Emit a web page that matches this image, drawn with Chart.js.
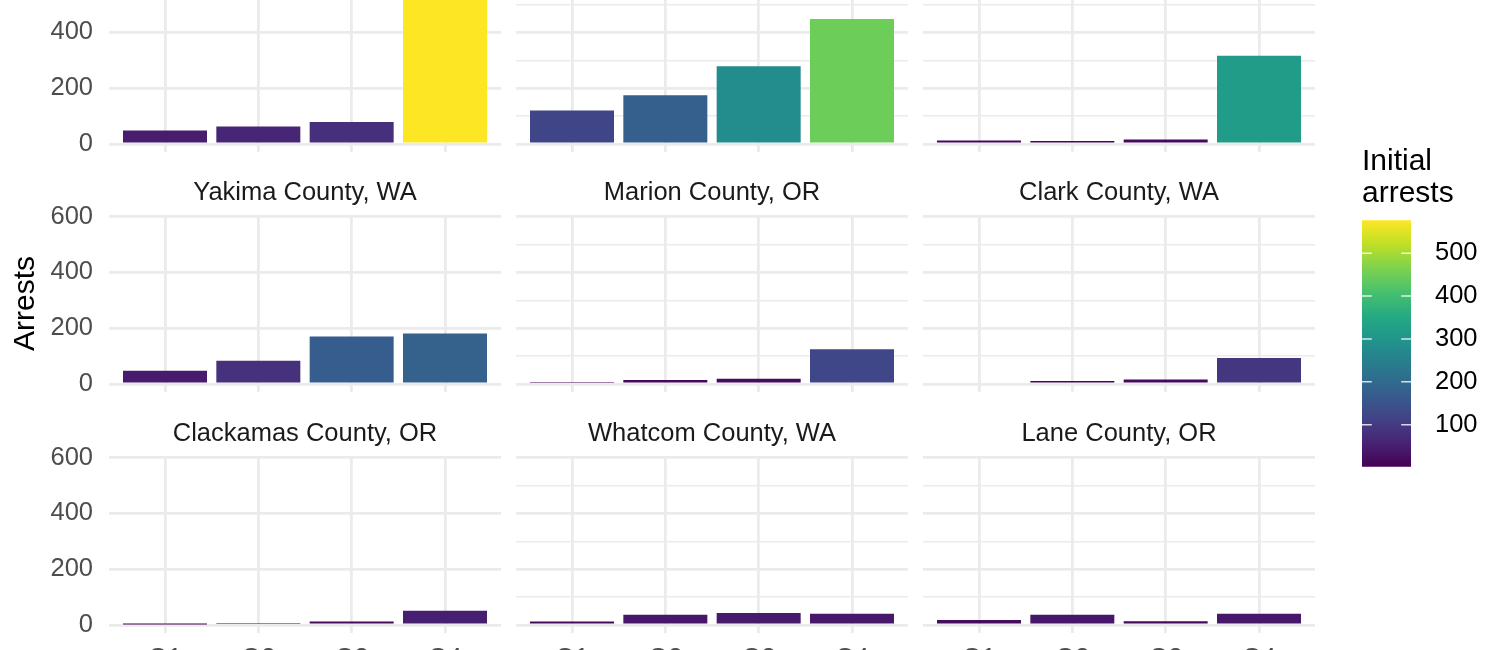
<!DOCTYPE html>
<html>
<head>
<meta charset="utf-8">
<title>Arrests by county</title>
<script src="https://cdn.jsdelivr.net/npm/chart.js@4.4.1/dist/chart.umd.min.js"></script>
<style>
  html, body { margin: 0; padding: 0; background: #fff; }
  body { width: 1500px; height: 650px; overflow: hidden; position: relative; }
  canvas { position: absolute; }
</style>
</head>
<body>
<script>
//-----------------------------------
// Data
//-----------------------------------
const quarters = ["Q1", "Q2", "Q3", "Q4"];
// the strip labels of the top row are cropped out of the picture
const counties = ["", "", "",
  "Yakima County, WA", "Marion County, OR", "Clark County, WA",
  "Clackamas County, OR", "Whatcom County, WA", "Lane County, OR"];
const arrests = [
  [48, 63, 79, 577],
  [120, 175, 279, 448],
  [12, 11, 16, 316],
  [47, 83, 170, 181],
  [7, 14, 19, 124],
  [5, 11, 16, 93],
  [2, 7, 12, 51],
  [12, 37, 43, 40],
  [18, 37, 13, 40]
];
const yTicks = [0, 100, 200, 300, 400, 500, 600];
const legendTicks = [100, 200, 300, 400, 500];

//-----------------------------------
// Layout + styling
//-----------------------------------
const panelLeft = [109, 516, 923];
const panelTop = [-25, 215, 456];
const panelW = 392, panelH = 177;
const stripPad = 50;
const FONT = "'Liberation Sans', Arial, Helvetica, sans-serif";
Chart.defaults.font.family = FONT;

const all = arrests.flat();
const lo = Math.min(...all), hi = Math.max(...all);
// ggplot style 5% expansion of the 0..max range
const yMin = -0.05 * hi, yMax = hi * 1.05;

const viridisStops = ["#440154", "#482475", "#414487", "#355f8d", "#2a788e", "#21918c",
  "#22a884", "#44bf70", "#7ad151", "#bddf26", "#fde725"];

function hexToRgb(h) {
  return [parseInt(h.slice(1, 3), 16), parseInt(h.slice(3, 5), 16), parseInt(h.slice(5, 7), 16)];
}

function viridis(t) {
  t = Math.min(1, Math.max(0, t));
  const p = t * (viridisStops.length - 1);
  const i = Math.min(Math.floor(p), viridisStops.length - 2);
  const f = p - i;
  const a = hexToRgb(viridisStops[i]), b = hexToRgb(viridisStops[i + 1]);
  const c = a.map((v, k) => Math.round(v + (b[k] - v) * f));
  return "rgb(" + c.join(",") + ")";
}

// facet strip title, centred over the plot area
const stripTitle = {
  id: "stripTitle",
  afterDraw(chart, args, opts) {
    if (!opts.text) return;
    const ctx = chart.ctx, a = chart.chartArea;
    ctx.save();
    ctx.font = "25.5px " + FONT;
    ctx.fillStyle = "#1A1A1A";
    ctx.textAlign = "center";
    ctx.textBaseline = "middle";
    ctx.fillText(opts.text, (a.left + a.right) / 2, a.top - 22.5);
    ctx.restore();
  }
};

// white tick marks on the colour bar
const colorbarTicks = {
  id: "colorbarTicks",
  afterDatasetsDraw(chart) {
    const ctx = chart.ctx, a = chart.chartArea, y = chart.scales.y;
    const len = (a.right - a.left) / 5;
    ctx.save();
    ctx.strokeStyle = "rgba(255,255,255,0.8)";
    ctx.lineWidth = 1.5;
    legendTicks.forEach(function (v) {
      const py = y.getPixelForValue(v);
      ctx.beginPath();
      ctx.moveTo(a.left, py); ctx.lineTo(a.left + len, py);
      ctx.moveTo(a.right - len, py); ctx.lineTo(a.right, py);
      ctx.stroke();
    });
    ctx.restore();
  }
};

//-----------------------------------
// One chart per facet
//-----------------------------------
function makePanel(i) {
  const col = i % 3, row = Math.floor(i / 3);
  const leftW = col === 0 ? panelLeft[0] : 10;
  // room below the plot area: the tick labels of the y axis need ~31px
  const bottomH = row === 2 ? 50 : 35;

  const canvas = document.createElement("canvas");
  canvas.width = leftW + panelW;
  canvas.height = stripPad + panelH + bottomH;
  canvas.style.left = (panelLeft[col] - leftW) + "px";
  canvas.style.top = (panelTop[row] - stripPad) + "px";
  document.body.appendChild(canvas);

  new Chart(canvas, {
    type: "bar",
    data: {
      datasets: [{
        data: arrests[i].map((v, k) => ({ x: k + 1, y: v })),
        backgroundColor: arrests[i].map(v => viridis((v - lo) / (hi - lo))),
        borderWidth: 0,
        barPercentage: 0.9,
        categoryPercentage: 1
      }]
    },
    options: {
      responsive: false,
      animation: false,
      layout: { padding: { top: stripPad, left: 0, right: 0, bottom: 0 } },
      plugins: {
        legend: { display: false },
        tooltip: { enabled: false },
        stripTitle: { text: counties[i] }
      },
      scales: {
        x: {
          type: "linear",
          min: 0.4,
          max: 4.6,
          offset: false,
          afterBuildTicks: s => { s.ticks = quarters.map((q, k) => ({ value: k + 1 })); },
          afterFit: s => { s.height = bottomH; },
          grid: { color: "#EBEBEB", lineWidth: 2.8, drawTicks: false, offset: false },
          border: { display: false },
          ticks: {
            display: row === 2,
            color: "#4D4D4D",
            font: { size: 25.5 },
            padding: 11,
            autoSkip: false,
            maxRotation: 0,
            callback: v => quarters[v - 1]
          }
        },
        y: {
          min: yMin,
          max: yMax,
          afterBuildTicks: s => { s.ticks = yTicks.map(v => ({ value: v })); },
          afterFit: s => { s.width = leftW; },
          grid: {
            color: "#EBEBEB",
            lineWidth: c => (c.tick && c.tick.value % 200 === 0) ? 2.8 : 1.4,
            drawTicks: false
          },
          border: { display: false },
          ticks: {
            display: col === 0,
            color: "#4D4D4D",
            font: { size: 25.5 },
            padding: 16,
            callback: v => (v % 200 === 0 ? v : "")
          },
          title: {
            display: i === 3,
            text: "Arrests",
            color: "#000",
            font: { size: 30 },
            padding: { top: 8, bottom: 0 }
          }
        }
      }
    },
    plugins: [stripTitle]
  });
}

for (let i = 0; i < arrests.length; i++) {
  makePanel(i);
}

//-----------------------------------
// Colour bar legend
//-----------------------------------
const legendCanvas = document.createElement("canvas");
legendCanvas.width = 149;
legendCanvas.height = 368;
legendCanvas.style.left = "1362px";
legendCanvas.style.top = "130px";
document.body.appendChild(legendCanvas);

new Chart(legendCanvas, {
  type: "bar",
  data: {
    labels: [""],
    datasets: [{
      data: [[lo, hi]],
      backgroundColor: function (c) {
        const a = c.chart.chartArea;
        if (!a) return viridisStops[0];
        const g = c.chart.ctx.createLinearGradient(0, a.bottom, 0, a.top);
        viridisStops.forEach((s, k) => g.addColorStop(k / (viridisStops.length - 1), s));
        return g;
      },
      borderWidth: 0,
      barPercentage: 1,
      categoryPercentage: 1
    }]
  },
  options: {
    responsive: false,
    animation: false,
    layout: { padding: { bottom: 0 } },
    plugins: {
      legend: { display: false },
      tooltip: { enabled: false },
      title: {
        display: true,
        text: ["Initial", "arrests"],
        align: "start",
        color: "#000",
        font: { size: 30, weight: "normal", lineHeight: 1.07 },
        padding: { top: 16, bottom: 10 }
      }
    },
    scales: {
      x: { display: false },
      y: {
        position: "right",
        min: lo,
        max: hi,
        afterBuildTicks: s => { s.ticks = legendTicks.map(v => ({ value: v })); },
        afterFit: s => { s.width = 100; },
        grid: { display: false },
        border: { display: false },
        ticks: { color: "#000", font: { size: 25.5 }, padding: 16 }
      }
    }
  },
  plugins: [colorbarTicks]
});
</script>
</body>
</html>
